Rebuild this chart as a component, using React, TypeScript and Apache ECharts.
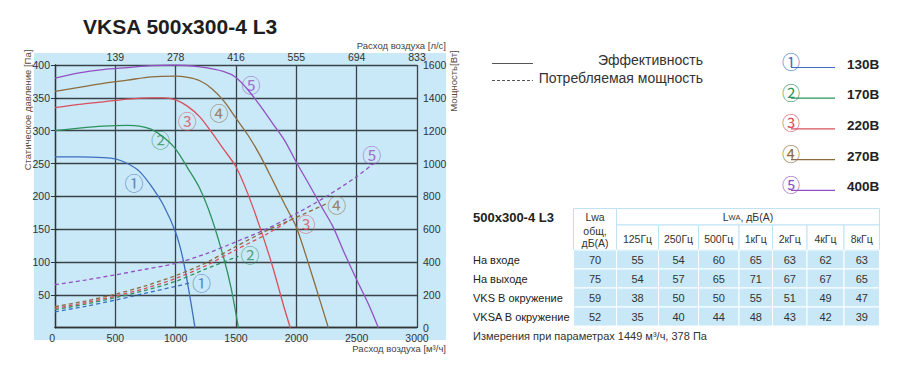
import React, { useEffect, useRef } from 'react';
import * as echarts from 'echarts';

const FONT = '"Liberation Sans", Arial, Helvetica, sans-serif';
const CIRCLE_FONT = '"Noto Sans CJK JP", "DejaVu Sans", sans-serif';

// ---------- data ----------
const title = 'VKSA 500x300-4 L3';
const topTickLabels = ['', '139', '278', '416', '555', '694', '833'];
const speedLabels = ['130В', '170В', '220В', '270В', '400В'];
const markGlyphs = ['①', '②', '③', '④', '⑤'];

// static pressure [Pa] vs airflow [m3/h]
const pressure130 = [[0, 260], [200, 260], [400, 259], [500, 257], [600, 250], [700, 238], [800, 215], [900, 186], [1000, 145], [1060, 105], [1120, 45], [1160, 0]];
const pressure170 = [[0, 300], [200, 304], [400, 307], [600, 308], [700, 307], [800, 302], [900, 290], [1000, 272], [1100, 243], [1200, 212], [1300, 166], [1400, 105], [1460, 60], [1520, 0]];
const pressure220 = [[0, 335], [200, 340], [400, 344], [600, 348], [800, 350], [900, 350], [1000, 347], [1100, 337], [1200, 321], [1300, 297], [1400, 271], [1500, 245], [1600, 203], [1700, 152], [1800, 95], [1900, 30], [1950, 0]];
const pressure270 = [[0, 360], [200, 366], [400, 372], [600, 377], [800, 382], [1000, 383], [1100, 381], [1200, 376], [1300, 364], [1400, 345], [1500, 319], [1600, 293], [1700, 262], [1800, 226], [1900, 189], [2000, 153], [2100, 98], [2200, 39], [2265, 0]];
const pressure400 = [[0, 380], [200, 388], [400, 393], [600, 396], [800, 399], [1000, 400], [1200, 397], [1400, 390], [1500, 381], [1600, 362], [1700, 338], [1800, 312], [1900, 286], [2000, 252], [2100, 220], [2200, 187], [2300, 155], [2400, 113], [2500, 73], [2600, 35], [2680, 0]];

// power consumption [W] vs airflow [m3/h]
const power130 = [[0, 97], [250, 130], [500, 168], [750, 210], [1000, 252], [1130, 275]];
const power170 = [[0, 110], [250, 143], [500, 183], [750, 228], [1000, 282], [1250, 358], [1520, 435]];
const power220 = [[0, 118], [250, 152], [500, 192], [750, 240], [1000, 300], [1250, 378], [1500, 475], [1750, 568], [1950, 656]];
const power270 = [[0, 128], [250, 162], [500, 204], [750, 255], [1000, 317], [1250, 395], [1500, 495], [1750, 590], [2000, 672], [2265, 760]];
const power400 = [[0, 262], [250, 290], [500, 322], [750, 356], [1000, 392], [1250, 450], [1500, 523], [1750, 600], [2000, 695], [2250, 800], [2500, 920], [2640, 1000]];

// positions of the circled curve marks, in data units
const pressureMarks = [[654, 221], [875, 287], [1096, 316], [1359, 327], [1624, 371]];
const powerMarks = [[1215, 276], [1616, 443], [2080, 636], [2334, 753], [2625, 1052]];

// sound table
const tableTitle = '500x300-4 L3';
const tableRows = ['На входе', 'На выходе', 'VKS В окружение', 'VKSA В окружение'];
const bands = ['125Гц', '250Гц', '500Гц', '1кГц', '2кГц', '4кГц', '8кГц'];
const totalLwa = [70, 75, 59, 52];
const inletLwa = [55, 54, 60, 65, 63, 62, 63];
const outletLwa = [54, 57, 65, 71, 67, 67, 65];
const vksAmbientLwa = [38, 50, 50, 55, 51, 49, 47];
const vksaAmbientLwa = [35, 40, 44, 48, 43, 42, 39];
const footnote = 'Измерения при параметрах 1449 м³/ч, 378 Па';

// ---------- styles / layout ----------
const colors = ['#3d6fc0', '#2e925c', '#d9505c', '#8d6b3d', '#9250c2'];
const GRID = { left: 55, top: 65, width: 362, height: 262.7 };
const tableEdgesX = [573.5, 616.5, 658.5, 698.5, 739, 772.5, 807, 844, 879.5];
const headTop = 208.5, headMid = 225, headBottom = 250, rowH = 19;

function txt(x: number, y: number, text: string, o: any = {}) {
  const align = o.align || 'left';
  const va = o.va || 'middle';
  return {
    type: 'text', x, y, silent: true, rotation: o.rotation || 0, z: 10,
    style: {
      text,
      fill: o.color || '#222', fontSize: o.size || 11, fontWeight: o.weight || 'normal',
      fontFamily: o.family || FONT,
      align, verticalAlign: va, textAlign: align, textVerticalAlign: va,
    },
  };
}

function buildGraphic() {
  const g: any[] = [];
  // light blue panel behind the chart
  g.push({ type: 'rect', z: -10, silent: true, shape: { x: 34, y: 53, width: 412, height: 287 }, style: { fill: '#c9e8f8' } });
  g.push(txt(83, 26, title, { size: 21, weight: 'bold', color: '#1e1e1e' }));
  g.push(txt(446, 45, 'Расход воздуха [л/с]', { align: 'right', size: 9.5, color: '#444' }));
  g.push(txt(446, 348, 'Расход воздуха [м³/ч]', { align: 'right', size: 9.5, color: '#444' }));
  g.push(txt(27, 110, 'Статическое давление [Па]', { align: 'center', size: 9.5, color: '#5a4a3a', rotation: Math.PI / 2 }));
  g.push(txt(453, 81, 'Мощность[Вт]', { align: 'center', size: 9.5, color: '#5a4a3a', rotation: Math.PI / 2 }));

  // line-style legend
  g.push({ type: 'line', silent: true, shape: { x1: 492, y1: 63.5, x2: 533, y2: 63.5 }, style: { stroke: '#555', lineWidth: 1.2 } });
  g.push(txt(703, 59.5, 'Эффективность', { align: 'right', size: 14, color: '#333' }));
  g.push({ type: 'line', silent: true, shape: { x1: 492, y1: 80.5, x2: 533, y2: 80.5 }, style: { stroke: '#555', lineWidth: 1.2, lineDash: [3, 2] } });
  g.push(txt(703, 77.5, 'Потребляемая мощность', { align: 'right', size: 14, color: '#333' }));

  // speed legend
  speedLabels.forEach((s, i) => {
    const y = 64 + i * 30.7;
    g.push({ type: 'line', silent: true, shape: { x1: 791, y1: y + 3.5, x2: 835, y2: y + 3.5 }, style: { stroke: colors[i], lineWidth: 1.2 } });
    g.push(txt(791, y - 3, markGlyphs[i], { align: 'center', size: 18, color: colors[i], family: CIRCLE_FONT }));
    g.push(txt(847, y, s, { size: 13.5, weight: 'bold', color: '#222' }));
  });

  // sound table
  g.push(txt(473, 217.5, tableTitle, { size: 13, weight: 'bold', color: '#222' }));
  const hdr = { fill: '#ffffff', stroke: '#bfe2f5', lineWidth: 1 };
  const x0 = tableEdgesX[0], x1 = tableEdgesX[1], xEnd = tableEdgesX[tableEdgesX.length - 1];
  g.push({ type: 'rect', silent: true, shape: { x: x0, y: headTop, width: x1 - x0, height: headBottom - headTop }, style: hdr });
  g.push({ type: 'rect', silent: true, shape: { x: x1, y: headTop, width: xEnd - x1, height: headMid - headTop }, style: hdr });
  bands.forEach((b, j) => {
    const a = tableEdgesX[j + 1], c = tableEdgesX[j + 2];
    g.push({ type: 'rect', silent: true, shape: { x: a, y: headMid, width: c - a, height: headBottom - headMid }, style: hdr });
    g.push(txt((a + c) / 2, 238.5, b, { align: 'center', size: 10.5, color: '#333' }));
  });
  g.push(txt((x0 + x1) / 2, 216.5, 'Lwa', { align: 'center', size: 10.5, color: '#333' }));
  g.push(txt((x0 + x1) / 2, 230.5, 'общ,', { align: 'center', size: 10.5, color: '#333' }));
  g.push(txt((x0 + x1) / 2, 242.5, 'дБ(А)', { align: 'center', size: 10.5, color: '#333' }));
  g.push({
    type: 'text', x: (x1 + xEnd) / 2, y: 217, silent: true, z: 10,
    style: {
      text: '{a|L}{b|WA}{a|, дБ(А)}', align: 'center', verticalAlign: 'middle', textAlign: 'center', textVerticalAlign: 'middle',
      rich: { a: { fontSize: 10.5, fontFamily: FONT, fill: '#333', color: '#333' }, b: { fontSize: 7.5, fontFamily: FONT, fill: '#333', color: '#333' } },
    },
  });
  const rowsData = [inletLwa, outletLwa, vksAmbientLwa, vksaAmbientLwa];
  tableRows.forEach((r, i) => {
    const top = headBottom + i * rowH;
    const cy = top + rowH / 2;
    g.push(txt(473, cy, r, { size: 11, color: '#222' }));
    const vals = [totalLwa[i], ...rowsData[i]];
    vals.forEach((v, j) => {
      const a = tableEdgesX[j], c = tableEdgesX[j + 1];
      g.push({ type: 'rect', silent: true, shape: { x: a, y: top, width: c - a, height: rowH }, style: { fill: '#c8e8f8', stroke: '#ffffff', lineWidth: 1 } });
      g.push(txt((a + c) / 2, cy, String(v), { align: 'center', size: 11, color: '#333' }));
    });
  });
  g.push(txt(473, 336, footnote, { size: 11, color: '#333' }));
  return g;
}

function buildOption() {
  const pressureSets = [pressure130, pressure170, pressure220, pressure270, pressure400];
  const powerSets = [power130, power170, power220, power270, power400];
  const gridLine = { color: '#3a4448', width: 1.3 };
  const axisLabel = { fontSize: 10.5, color: '#333', fontFamily: FONT, formatter: (v: number) => String(v) };
  const markLabel = (glyphs: string[]) => ({
    show: true, position: 'inside', fontSize: 19, fontFamily: CIRCLE_FONT,
    formatter: (p: any) => glyphs[p.dataIndex],
  });
  return {
    animation: false,
    textStyle: { fontFamily: FONT },
    grid: { left: GRID.left, top: GRID.top, width: GRID.width, height: GRID.height, containLabel: false },
    xAxis: [
      {
        type: 'value', min: 0, max: 3000, interval: 500, position: 'bottom',
        axisLine: { show: true, lineStyle: { color: '#333', width: 1.3 } },
        axisTick: { show: false },
        splitLine: { show: true, lineStyle: gridLine },
        axisLabel: { ...axisLabel, margin: 5, alignMinLabel: 'right' },
      },
      {
        type: 'value', min: 0, max: 3000, interval: 500, position: 'top',
        axisLine: { show: true, lineStyle: { color: '#333', width: 1 } },
        axisTick: { show: false },
        splitLine: { show: false },
        axisLabel: { ...axisLabel, margin: 3, showMinLabel: false, formatter: (v: number) => topTickLabels[Math.round(v / 500)] },
      },
    ],
    yAxis: [
      {
        type: 'value', min: 0, max: 400, interval: 50, position: 'left',
        axisLine: { show: true, lineStyle: { color: '#333', width: 1.3 } },
        axisTick: { show: true, length: 4, lineStyle: { color: '#333' } },
        splitLine: { show: true, lineStyle: gridLine },
        axisLabel: { ...axisLabel, margin: 5, showMinLabel: false },
      },
      {
        type: 'value', min: 0, max: 1600, interval: 200, position: 'right',
        axisLine: { show: true, lineStyle: { color: '#333', width: 1 } },
        axisTick: { show: true, length: 4, lineStyle: { color: '#333' } },
        splitLine: { show: false },
        axisLabel: { ...axisLabel, margin: 6 },
      },
    ],
    series: [
      ...pressureSets.map((d, i) => ({
        type: 'line', name: speedLabels[i], data: d, xAxisIndex: 0, yAxisIndex: 0,
        smooth: 0.3, symbol: 'none', silent: true,
        lineStyle: { color: colors[i], width: 1.3 },
      })),
      ...powerSets.map((d, i) => ({
        type: 'line', name: speedLabels[i] + ' P', data: d, xAxisIndex: 0, yAxisIndex: 1,
        smooth: 0.3, symbol: 'none', silent: true,
        lineStyle: { color: colors[i], width: 1.3, type: [4, 3] },
      })),
      {
        type: 'scatter', xAxisIndex: 0, yAxisIndex: 0, symbolSize: 1, silent: true,
        itemStyle: { color: 'rgba(0,0,0,0)' },
        data: pressureMarks.map((p, i) => ({ value: p, label: { color: colors[i] } })),
        label: markLabel(markGlyphs),
        z: 5,
      },
      {
        type: 'scatter', xAxisIndex: 0, yAxisIndex: 1, symbolSize: 1, silent: true,
        itemStyle: { color: 'rgba(0,0,0,0)' },
        data: powerMarks.map((p, i) => ({ value: p, label: { color: colors[i] } })),
        label: markLabel(markGlyphs),
        z: 5,
      },
    ],
    graphic: buildGraphic(),
  };
}

export default function App() {
  const ref = useRef<HTMLDivElement>(null);
  useEffect(() => {
    if (!ref.current) return;
    const chart = echarts.init(ref.current, null, { renderer: 'svg' });
    chart.setOption(buildOption() as any);
    return () => chart.dispose();
  }, []);
  return <div ref={ref} style={{ position: 'absolute', left: 0, top: 0, width: 900, height: 376, background: '#ffffff' }} />;
}
